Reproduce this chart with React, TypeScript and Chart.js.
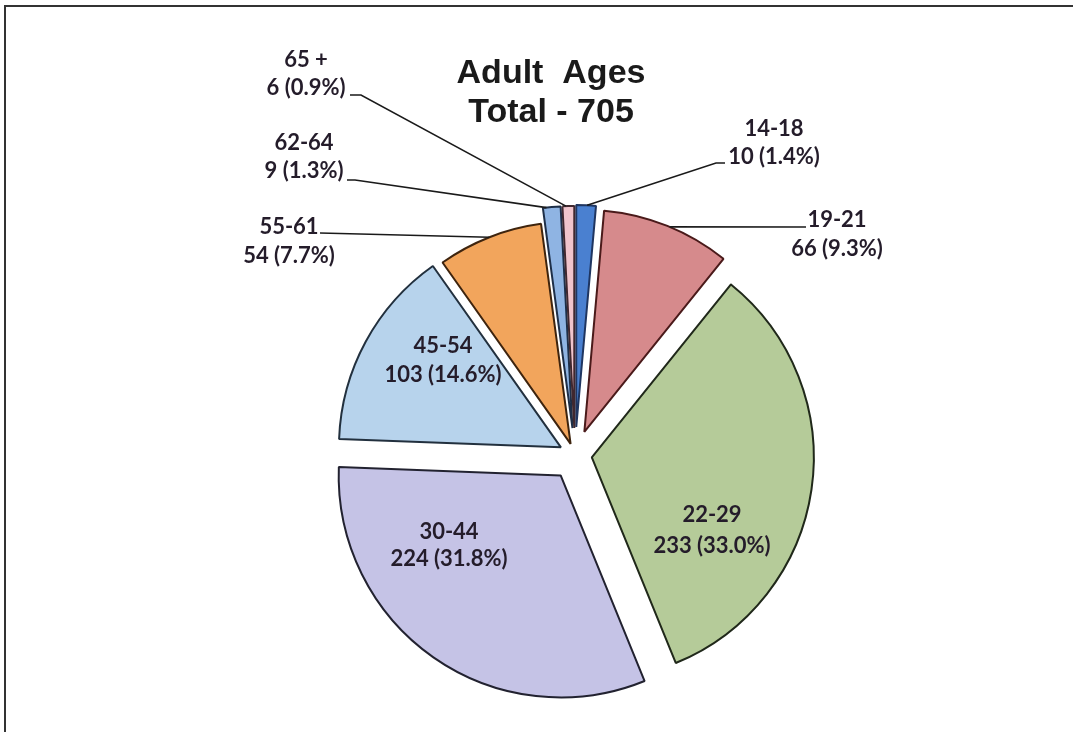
import React, { useEffect, useRef } from 'react';
import { Chart, registerables } from 'chart.js';

Chart.register(...registerables);

// ---- data ----
const categories = ['14-18', '19-21', '22-29', '30-44', '45-54', '55-61', '62-64', '65 +'];
const counts = [10, 66, 233, 224, 103, 54, 9, 6];
const percentLabels = ['1.4%', '9.3%', '33.0%', '31.8%', '14.6%', '7.7%', '1.3%', '0.9%'];
const titleLines = ['Adult  Ages', 'Total - 705'];

// ---- styles ----
const sliceColors = ['#4a80d0', '#d68a8c', '#b5cb99', '#c5c3e6', '#b7d3ec', '#f2a55c', '#8fb4e3', '#f0c4cc'];
const sliceBorders = ['#1f3560', '#4a1a1a', '#20281a', '#222230', '#22303e', '#3e240e', '#1e2f48', '#40282f'];
const explode = [28, 25, 17, 25, 16, 12, 27, 27];

// label layout: centre x, baseline of line 1 and line 2, optional leader
type Leader = { pts: [number, number][]; frac: number };
const labelLayout: { x: number; y1: number; y2: number; leader?: Leader }[] = [
  { x: 774, y1: 136, y2: 164, leader: { pts: [[725, 163], [716, 163]], frac: 0.55 } },
  { x: 837, y1: 227, y2: 256, leader: { pts: [[806, 227]], frac: 0.52 } },
  { x: 712, y1: 522, y2: 553 },
  { x: 449, y1: 539, y2: 566 },
  { x: 443, y1: 353, y2: 382 },
  { x: 289, y1: 234, y2: 263, leader: { pts: [[320, 233]], frac: 0.5 } },
  { x: 304, y1: 150, y2: 178, leader: { pts: [[347, 180], [355, 180]], frac: 0.2 } },
  { x: 306, y1: 67, y2: 95, leader: { pts: [[350, 95], [361, 95]], frac: 0.3 } },
];

const explodePlugin = {
  id: 'explodeSlices',
  beforeDatasetDraw(chart: any, args: any) {
    const ctx = chart.ctx;
    const meta = args.meta;
    meta.data.forEach((arc: any, i: number) => {
      const mid = (arc.startAngle + arc.endAngle) / 2;
      const d = explode[i] || 0;
      ctx.save();
      ctx.translate(Math.cos(mid) * d, Math.sin(mid) * d);
      arc.draw(ctx);
      ctx.restore();
    });
    return false;
  },
};

const labelPlugin = {
  id: 'sliceLabels',
  afterDatasetsDraw(chart: any) {
    const ctx = chart.ctx;
    const meta = chart.getDatasetMeta(0);
    ctx.save();
    // frame (left and top edges)
    ctx.strokeStyle = '#333';
    ctx.lineWidth = 2;
    ctx.beginPath();
    ctx.moveTo(5, chart.height);
    ctx.lineTo(5, 6);
    ctx.lineTo(chart.width, 6);
    ctx.stroke();

    // title
    ctx.fillStyle = '#1a1a1a';
    ctx.font = 'bold 34px "Liberation Sans", Arial, sans-serif';
    ctx.textAlign = 'center';
    ctx.textBaseline = 'alphabetic';
    ctx.fillText(titleLines[0], 551, 83);
    ctx.fillText(titleLines[1], 551, 122);

    // leaders
    ctx.strokeStyle = '#1a1a1a';
    ctx.lineWidth = 1.6;
    meta.data.forEach((arc: any, i: number) => {
      const lay = labelLayout[i];
      if (!lay || !lay.leader) return;
      const mid = (arc.startAngle + arc.endAngle) / 2;
      const d = explode[i] || 0;
      const a = arc.startAngle + lay.leader.frac * (arc.endAngle - arc.startAngle);
      const ex = arc.x + Math.cos(mid) * d + Math.cos(a) * arc.outerRadius;
      const ey = arc.y + Math.sin(mid) * d + Math.sin(a) * arc.outerRadius;
      ctx.beginPath();
      lay.leader.pts.forEach((p, k) => (k === 0 ? ctx.moveTo(p[0], p[1]) : ctx.lineTo(p[0], p[1])));
      ctx.lineTo(ex, ey);
      ctx.stroke();
    });

    // labels
    ctx.font = 'bold 22px Lato, "Open Sans", sans-serif';
    ctx.fillStyle = '#241c2a';
    categories.forEach((c, i) => {
      const lay = labelLayout[i];
      ctx.fillText(c, lay.x, lay.y1);
      ctx.fillText(`${counts[i]} (${percentLabels[i]})`, lay.x, lay.y2);
    });
    ctx.restore();
  },
};

export default function App() {
  const ref = useRef<HTMLCanvasElement | null>(null);
  useEffect(() => {
    if (!ref.current) return;
    const chart = new Chart(ref.current, {
      type: 'pie',
      data: {
        labels: categories,
        datasets: [
          {
            data: counts,
            backgroundColor: sliceColors,
            borderColor: sliceBorders,
            borderWidth: 2,
            radius: 222,
          } as any,
        ],
      },
      options: {
        responsive: false,
        animation: false,
        events: [],
        layout: { padding: { left: 77, top: 178, right: 0, bottom: 0 } },
        plugins: {
          legend: { display: false },
          tooltip: { enabled: false },
          title: { display: false },
        },
      },
      plugins: [explodePlugin, labelPlugin],
    });
    return () => chart.destroy();
  }, []);
  return (
    <div
      style={{
        position: 'fixed',
        left: 0,
        top: 0,
        width: 1073,
        height: 732,
        background: '#fff',
        overflow: 'hidden',
      }}
    >
      <canvas ref={ref} width={1073} height={732} style={{ position: 'absolute', left: 0, top: 0 }} />
    </div>
  );
}
